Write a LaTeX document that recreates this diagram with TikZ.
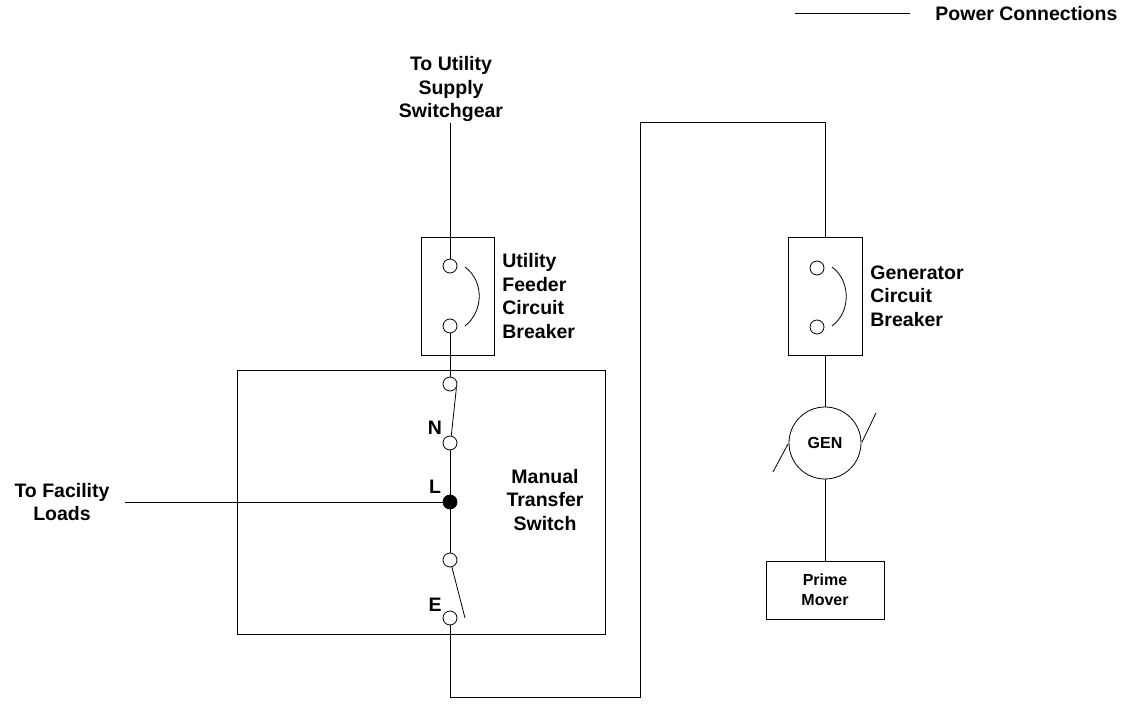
\documentclass[tikz,border=0pt]{standalone}
\usepackage{fontspec}
\setmainfont{Liberation Sans}

\begin{document}
\begin{tikzpicture}[x=1pt,y=-1pt,line width=0.8pt,
  lbl/.style={font=\bfseries\fontsize{19.5}{23.5}\selectfont,inner sep=0pt},
  smlbl/.style={font=\bfseries\fontsize{16}{20}\selectfont,inner sep=0pt},
  term/.style={circle,draw,fill=white,minimum size=14pt,inner sep=0pt},
  box/.style={draw,inner sep=0pt}]
\useasboundingbox (0,0) rectangle (1136,708);
% legend
\coordinate (lg1) at (795,13);
\coordinate (lg2) at (910,13);
\draw (lg1) -- (lg2);
\node[lbl,anchor=west] (lgtxt) at (935,14) {Power Connections};
% utility side
\node[lbl,align=center] (utxt) at (451,89.5) {To Utility\\Supply\\Switchgear};
\node[box,minimum width=73pt,minimum height=118pt] (ucb) at (457.5,296) {};
\node[lbl,align=left,anchor=west] (ucbtxt) at (502,296) {Utility\\Feeder\\Circuit\\Breaker};
\node[term] (u1) at (450,266) {};
\node[term] (u2) at (450,326) {};
\draw (465,267) .. controls (484,281) and (484,311) .. (465,326);
\draw (utxt.south -| u1) -- (u1);
% manual transfer switch
\node[box,minimum width=368pt,minimum height=264pt] (mts) at (421,502) {};
\node[lbl,align=center] (mtstxt) at (545,500) {Manual\\Transfer\\Switch};
\node[term] (m1) at (450,384) {};
\node[term] (n1) at (450,443) {};
\node[circle,fill=black,draw,minimum size=14pt,inner sep=0pt] (ldot) at (450,502) {};
\node[term] (m3) at (450,560) {};
\node[term] (e1) at (450,618) {};
\node[lbl] (ntxt) at (435,428) {N};
\node[lbl] (ltxt) at (435,487) {L};
\node[lbl] (etxt) at (435,605) {E};
\coordinate (eblade) at (465,618);
\draw (u2) -- (m1);
\draw (m1.-30) -- (n1.80);
\draw (n1) -- (ldot) -- (m3);
\draw (m3.-75) -- (eblade);
% facility loads
\node[lbl,align=center] (fltxt) at (62,502) {To Facility\\Loads};
\coordinate (fl) at (125,502);
\draw (ldot) -- (fl);
% generator side
\node[box,minimum width=74pt,minimum height=118pt] (gcb) at (825,296) {};
\node[lbl,align=left,anchor=west] (gcbtxt) at (870,296) {Generator\\Circuit\\Breaker};
\node[term] (g1) at (817,268) {};
\node[term] (g2) at (817,327) {};
\draw (832,267) .. controls (851,281) and (851,312) .. (832,326);
\node[circle,draw,minimum size=72pt,inner sep=0pt,smlbl] (gen) at (825,443) {GEN};
\draw (773,472) -- (788,444);
\draw (862,442) -- (876,413);
\node[box,minimum width=118pt,minimum height=58pt,align=center,smlbl] (pm) at (825,590) {Prime\\Mover};
\draw (gcb.south) -- (gen.north);
\draw (gen.south) -- (pm.north);
% feed from transfer switch to generator
\draw (e1.south) -- (450,697) -| (640,122) -| (gcb.north);
\end{tikzpicture}
\end{document}
